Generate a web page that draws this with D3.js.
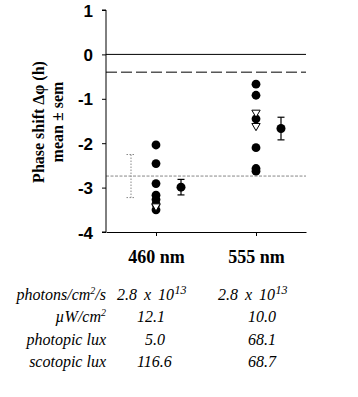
<!DOCTYPE html>
<html><head><meta charset="utf-8">
<script src="https://cdn.jsdelivr.net/npm/d3@7"></script>
<style>body{margin:0;background:#fff}svg{display:block}</style>
</head><body>
<script>
const categories = ["460 nm", "555 nm"];
const filledPoints = [
  [-2.04, -2.46, -2.91, -3.17, -3.27, -3.37, -3.50],
  [-0.67, -0.92, -1.45, -2.10, -2.57, -2.63]
];
const openTriangles = [
  [-3.42],
  [-1.31, -1.61]
];
const means = [-2.99, -1.67];
const sems = [0.175, 0.255];
const yTicks = [1, 0, -1, -2, -3, -4];
const refSolid = 0;
const refDashed = -0.4;
const refDotted = -2.74;
const refDottedSem = 0.485;
const tableLabels = ["photons/cm²/s", "µW/cm²", "photopic lux", "scotopic lux"];
const tableCol1 = ["2.8 x 10^13", "12.1", "5.0", "116.6"];
const tableCol2 = ["2.8 x 10^13", "10.0", "68.1", "68.7"];

const W = 358, H = 397;
const svg = d3.select("body").append("svg").attr("width", W).attr("height", H);
const x0 = 106, x1 = 306, yTop = 10, yBot = 232;
const y = d3.scaleLinear().domain([-4, 1]).range([yBot, yTop]);
const x = d3.scalePoint().domain(categories).range([x0, x1]).padding(0.5);
const step = x.step();

// reference lines
svg.append("line").attr("x1", x0).attr("x2", x1).attr("y1", y(refSolid)).attr("y2", y(refSolid))
  .attr("stroke", "#000").attr("stroke-width", 1);
svg.append("line").attr("x1", x0).attr("x2", x1).attr("y1", y(refDashed)).attr("y2", y(refDashed))
  .attr("stroke", "#000").attr("stroke-width", 1).attr("stroke-dasharray", "11,4");
svg.append("line").attr("x1", x0).attr("x2", x1).attr("y1", y(refDotted)).attr("y2", y(refDotted))
  .attr("stroke", "#888").attr("stroke-width", 1).attr("stroke-dasharray", "3,1.5");

// dotted error bar
const dbx = x(categories[0]) - step / 4;
const dg = svg.append("g").attr("stroke", "#888").attr("stroke-width", 1).attr("stroke-dasharray", "1.5,1.5");
dg.append("line").attr("x1", dbx).attr("x2", dbx).attr("y1", y(refDotted + refDottedSem)).attr("y2", y(refDotted - refDottedSem));
[refDotted + refDottedSem, refDotted - refDottedSem].forEach(v => {
  dg.append("line").attr("x1", dbx - 4.5).attr("x2", dbx + 4.5).attr("y1", y(v)).attr("y2", y(v));
});

// axes
const yAxis = d3.axisLeft(y).tickValues(yTicks).tickSize(4).tickFormat(d3.format("d"));
const gy = svg.append("g").attr("transform", `translate(${x0},0)`).call(yAxis);
gy.select(".domain").attr("d", `M-4,${yTop}H0V${yBot}H-4`).attr("stroke", "#000");
gy.selectAll(".tick line").attr("stroke", "#000");
gy.selectAll(".tick text").attr("x", -13).attr("dy", "0.36em")
  .style("font-family", "'Liberation Sans', Arial, sans-serif").style("font-weight", "bold")
  .style("font-size", "17px").attr("fill", "#000")
  .text(d => d < 0 ? "-" + Math.abs(d) : d);

const xAxis = d3.axisBottom(x).tickSize(4).tickSizeOuter(0);
const gx = svg.append("g").attr("transform", `translate(0,${yBot})`).call(xAxis);
gx.select(".domain").attr("stroke", "#000");
gx.selectAll(".tick line").attr("stroke", "#000");
gx.selectAll(".tick text").attr("y", 0).attr("dy", "31px")
  .style("font-family", "'Liberation Serif', 'Times New Roman', serif").style("font-weight", "bold")
  .style("font-size", "18px").attr("fill", "#000");

// y title
const yt = svg.append("text").attr("transform", "translate(44,122) rotate(-90)")
  .attr("text-anchor", "middle")
  .style("font-family", "'Liberation Serif', 'Times New Roman', serif").style("font-weight", "bold")
  .style("font-size", "16px");
yt.append("tspan").attr("x", 0).attr("y", 0).text("Phase shift Δφ (h)");
yt.append("tspan").attr("x", 0).attr("y", 19).text("mean ± sem");

// points
categories.forEach((c, i) => {
  const cx = x(c);
  svg.append("g").selectAll("circle").data(filledPoints[i]).join("circle")
    .attr("cx", cx).attr("cy", d => y(d)).attr("r", 4.4).attr("fill", "#000");
  const tri = d3.symbol().type(d3.symbolTriangle).size(30);
  svg.append("g").selectAll("path").data(openTriangles[i]).join("path")
    .attr("d", tri).attr("transform", d => `translate(${cx},${y(d)}) rotate(180)`)
    .attr("fill", "#fff").attr("stroke", "#000").attr("stroke-width", 1);
  // mean & sem
  const mx = cx + step / 4;
  const g = svg.append("g").attr("stroke", "#000").attr("stroke-width", 1.2);
  g.append("line").attr("x1", mx).attr("x2", mx).attr("y1", y(means[i] + sems[i])).attr("y2", y(means[i] - sems[i]));
  [means[i] + sems[i], means[i] - sems[i]].forEach(v =>
    g.append("line").attr("x1", mx - 3.5).attr("x2", mx + 3.5).attr("y1", y(v)).attr("y2", y(v)));
  svg.append("circle").attr("cx", mx).attr("cy", y(means[i])).attr("r", 4.5).attr("fill", "#000");
});

// table
const rowY = [300, 322, 345, 367];
const tfont = s => s.style("font-family", "'Liberation Serif', 'Times New Roman', serif")
  .style("font-style", "italic").style("font-size", "16px").attr("fill", "#000");
function writeRich(t, str) {
  if (str.includes("^")) {
    const [a, b] = str.split("^");
    t.append("tspan").style("word-spacing", "3px").text(a);
    t.append("tspan").attr("dy", -6).attr("dx", 0.5).style("font-size", "12px").text(b);
  } else if (str.includes("²")) {
    const parts = str.split("²");
    t.append("tspan").text(parts[0]);
    t.append("tspan").attr("dy", -6).style("font-size", "10px").text("2");
    if (parts[1]) t.append("tspan").attr("dy", 6).text(parts[1]);
  } else {
    t.text(str);
  }
}
tableLabels.forEach((l, i) => {
  const t = svg.append("text").attr("x", x0).attr("y", rowY[i]).attr("text-anchor", "end").call(tfont);
  writeRich(t, l);
});
const col1X = [117, 137, 145, 137];
const col2X = [218, 248, 248, 248];
tableCol1.forEach((v, i) => {
  const t = svg.append("text").attr("x", col1X[i]).attr("y", rowY[i]).call(tfont);
  writeRich(t, v);
});
tableCol2.forEach((v, i) => {
  const t = svg.append("text").attr("x", col2X[i]).attr("y", rowY[i]).call(tfont);
  writeRich(t, v);
});
</script>
</body></html>
